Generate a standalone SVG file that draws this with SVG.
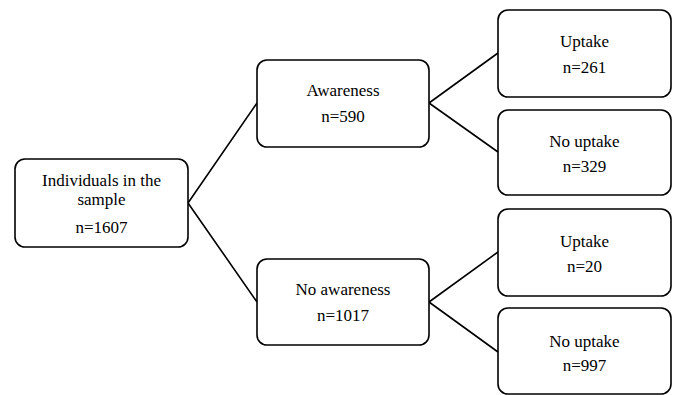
<svg xmlns="http://www.w3.org/2000/svg" width="676" height="395" viewBox="0 0 676 395">
<style>
.box{fill:#fff;stroke:#000;stroke-width:1.6}
.lnk{fill:none;stroke:#000;stroke-width:1.6}
.t{font-family:'Liberation Serif','Tinos','DejaVu Serif','Noto Serif',serif;font-size:17px;fill:#000;text-anchor:middle}
</style>
<rect width="676" height="395" fill="#fff"/>
<g id="connectors">
<path class="lnk" d="M188,203 L257,103 M188,203 L257,302"/>
<path class="lnk" d="M429,103 L498,53 M429,103 L498,152"/>
<path class="lnk" d="M429,302 L498,252 M429,302 L498,352"/>
</g>
<g id="root">
<rect class="box" x="15" y="159" width="173" height="88" rx="10"/>
<text class="t" x="101.5" y="186">Individuals in the</text>
<text class="t" x="101.5" y="205">sample</text>
<text class="t" x="101.5" y="233">n=1607</text>
</g>
<g id="awareness">
<rect class="box" x="257" y="60" width="172" height="87" rx="10"/>
<text class="t" x="343" y="96">Awareness</text>
<text class="t" x="343" y="122">n=590</text>
</g>
<g id="no-awareness">
<rect class="box" x="257" y="259" width="172" height="86" rx="10"/>
<text class="t" x="343" y="295">No awareness</text>
<text class="t" x="343" y="321">n=1017</text>
</g>
<g id="aw-uptake">
<rect class="box" x="498" y="10" width="173" height="87" rx="10"/>
<text class="t" x="584.5" y="47">Uptake</text>
<text class="t" x="584.5" y="73">n=261</text>
</g>
<g id="aw-no-uptake">
<rect class="box" x="498" y="110" width="173" height="85" rx="10"/>
<text class="t" x="584.5" y="147">No uptake</text>
<text class="t" x="584.5" y="172">n=329</text>
</g>
<g id="noaw-uptake">
<rect class="box" x="498" y="209" width="173" height="87" rx="10"/>
<text class="t" x="584.5" y="247">Uptake</text>
<text class="t" x="584.5" y="272">n=20</text>
</g>
<g id="noaw-no-uptake">
<rect class="box" x="498" y="308" width="173" height="86" rx="10"/>
<text class="t" x="584.5" y="347">No uptake</text>
<text class="t" x="584.5" y="371">n=997</text>
</g>
</svg>
